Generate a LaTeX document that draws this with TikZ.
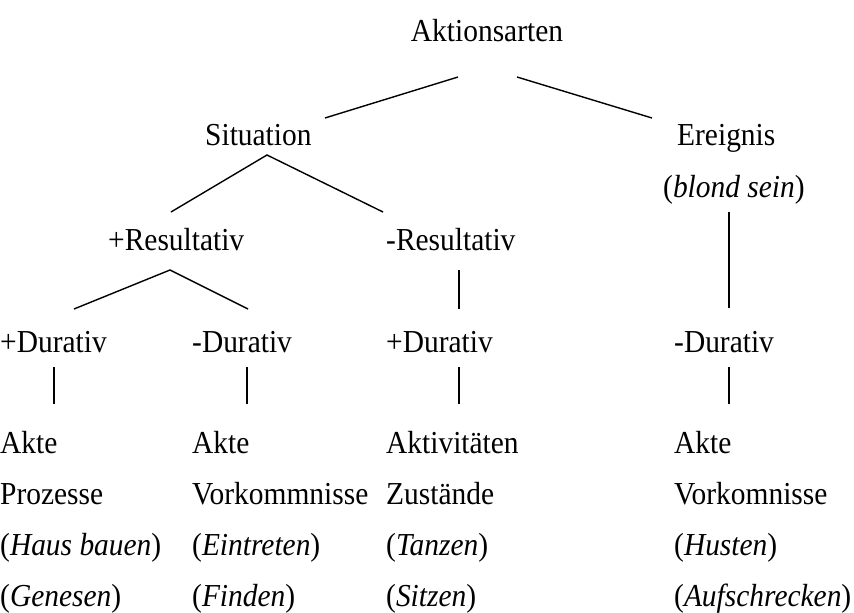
\documentclass[tikz,border=0pt]{standalone}
\usepackage{fontspec}
\setmainfont{Liberation Serif}[FakeStretch=0.92]
\begin{document}
\begin{tikzpicture}[x=1pt,y=-1pt,
  lbl/.style={anchor=base west,inner sep=0pt,font=\fontsize{32}{38}\selectfont},
  edge/.style={line width=1.4pt}]
\useasboundingbox (0,0) rectangle (854,613);
% tree labels
\node[lbl,anchor=base] (root) at (487,41) {Aktionsarten};
\node[lbl] (sit) at (205,145) {Situation};
\node[lbl] (ereig) at (677,145) {Ereignis};
\node[lbl] (ereigex) at (663,197) {(\textit{blond sein})};
\node[lbl] (presult) at (108,250) {+Resultativ};
\node[lbl] (mresult) at (386,250) {-Resultativ};
\node[lbl] (pdurA) at (0,352) {+Durativ};
\node[lbl] (mdurA) at (192,352) {-Durativ};
\node[lbl] (pdurB) at (386,352) {+Durativ};
\node[lbl] (mdurB) at (674,352) {-Durativ};
% leaf columns
\node[lbl] (a1) at (0,453) {Akte};
\node[lbl] (a2) at (0,504) {Prozesse};
\node[lbl] (a3) at (0,555) {(\textit{Haus bauen})};
\node[lbl] (a4) at (0,606) {(\textit{Genesen})};
\node[lbl] (b1) at (192,453) {Akte};
\node[lbl] (b2) at (192,504) {Vorkommnisse};
\node[lbl] (b3) at (192,555) {(\textit{Eintreten})};
\node[lbl] (b4) at (192,606) {(\textit{Finden})};
\node[lbl] (c1) at (386,453) {Aktivitäten};
\node[lbl] (c2) at (386,504) {Zustände};
\node[lbl] (c3) at (386,555) {(\textit{Tanzen})};
\node[lbl] (c4) at (386,606) {(\textit{Sitzen})};
\node[lbl] (d1) at (674,453) {Akte};
\node[lbl] (d2) at (674,504) {Vorkomnisse};
\node[lbl] (d3) at (674,555) {(\textit{Husten})};
\node[lbl] (d4) at (674,606) {(\textit{Aufschrecken})};
% branch end points
\coordinate (rootL) at (458,77);
\coordinate (rootR) at (517,77);
\coordinate (sitIn) at (325,118);
\coordinate (ereigIn) at (652,118);
\coordinate (sitTop) at (267,155);
\coordinate (presIn) at (171,212);
\coordinate (mresIn) at (383,212);
\coordinate (ereigOut) at (729,212);
\coordinate (mdurBIn) at (729,308);
\coordinate (presTop) at (170,270);
\coordinate (pdurAIn) at (74,309);
\coordinate (mdurAIn) at (248,309);
\coordinate (mresOut) at (459,270);
\coordinate (pdurBIn) at (459,309);
\foreach \n/\x in {pA/54,mA/247,pB/459,mB/729}{
  \coordinate (\n top) at (\x,367);
  \coordinate (\n bot) at (\x,404);
}
% branches
\draw[edge] (rootL) -- (sitIn);
\draw[edge] (rootR) -- (ereigIn);
\draw[edge] (presIn) -- (sitTop) -- (mresIn);
\draw[edge] (ereigOut) -- (mdurBIn);
\draw[edge] (pdurAIn) -- (presTop) -- (mdurAIn);
\draw[edge] (mresOut) -- (pdurBIn);
\foreach \n in {pA,mA,pB,mB}{
  \draw[edge] (\n top) -- (\n bot);
}
\end{tikzpicture}
\end{document}
